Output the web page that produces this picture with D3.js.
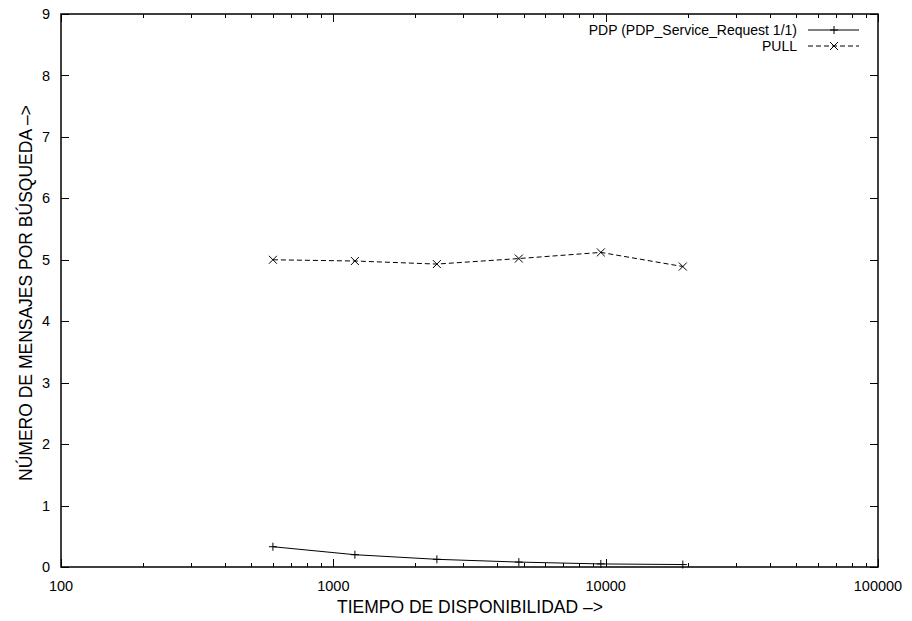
<!DOCTYPE html>
<html>
<head>
<meta charset="utf-8">
<script src="https://cdn.jsdelivr.net/npm/d3@7"></script>
<style>
  html, body { margin: 0; padding: 0; background: #fff; }
  svg text { font-family: "Liberation Sans", Arial, Helvetica, sans-serif; font-size: 14.5px; fill: #000; }
  svg text.axis-title { font-size: 17.5px; }
  svg text.legend-label { font-size: 14px; }
</style>
</head>
<body>
<svg id="chart" width="912" height="621"></svg>
<script>
// Availability time (x, log scale) and messages per search (y)
const tiempos = [600, 1200, 2400, 4800, 9600, 19200];
const pdpValues = [0.33, 0.20, 0.125, 0.08, 0.05, 0.04];
const pullValues = [5.00, 4.98, 4.93, 5.02, 5.12, 4.89];
const xTickValues = [100, 1000, 10000, 100000];
const yTickValues = [0, 1, 2, 3, 4, 5, 6, 7, 8, 9];
const seriesNames = ["PDP (PDP_Service_Request 1/1)", "PULL"];

const svg = d3.select("#chart");
const margin = { left: 61, right: 912 - 878, top: 14, bottom: 621 - 567 };
const W = 912, H = 621;
const x0 = margin.left, x1 = W - margin.right, y0 = H - margin.bottom, y1 = margin.top;

const x = d3.scaleLog().domain([100, 100000]).range([x0, x1]);
const y = d3.scaleLinear().domain([0, 9]).range([y0, y1]);

// Minor ticks for each decade (2..9 x 10^k)
const minorTicks = [];
[100, 1000, 10000].forEach(d => { for (let k = 2; k <= 9; k++) minorTicks.push(d * k); });

const g = svg.append("g");

// Tick marks (inward) on all four sides
const tickG = g.append("g").attr("stroke", "#000").attr("stroke-width", 1);
yTickValues.forEach(v => {
  const yy = Math.round(y(v)) + 0.5;
  tickG.append("line").attr("x1", x0).attr("x2", x0 + 8).attr("y1", yy).attr("y2", yy);
  tickG.append("line").attr("x1", x1).attr("x2", x1 - 8).attr("y1", yy).attr("y2", yy);
});
xTickValues.forEach(v => {
  const xx = Math.round(x(v)) + 0.5;
  tickG.append("line").attr("x1", xx).attr("x2", xx).attr("y1", y0).attr("y2", y0 - 8);
  tickG.append("line").attr("x1", xx).attr("x2", xx).attr("y1", y1).attr("y2", y1 + 8);
});
minorTicks.forEach(v => {
  const xx = Math.round(x(v)) + 0.5;
  tickG.append("line").attr("x1", xx).attr("x2", xx).attr("y1", y0).attr("y2", y0 - 4);
  tickG.append("line").attr("x1", xx).attr("x2", xx).attr("y1", y1).attr("y2", y1 + 4);
});

// Tick labels
g.append("g").selectAll("text").data(yTickValues).join("text")
  .attr("x", x0 - 11).attr("y", d => y(d)).attr("dy", "0.35em")
  .attr("text-anchor", "end").text(d => d);
g.append("g").selectAll("text").data(xTickValues).join("text")
  .attr("x", d => x(d)).attr("y", y0 + 24)
  .attr("text-anchor", "middle").text(d => d);

// Series lines
const line = d3.line().x(d => x(d[0])).y(d => y(d[1]));
const pdp = tiempos.map((t, i) => [t, pdpValues[i]]);
const pull = tiempos.map((t, i) => [t, pullValues[i]]);

g.append("path").datum(pdp).attr("d", line)
  .attr("fill", "none").attr("stroke", "#000").attr("stroke-width", 1);
g.append("path").datum(pull).attr("d", line)
  .attr("fill", "none").attr("stroke", "#000").attr("stroke-width", 1)
  .attr("stroke-dasharray", "5,3");

function plus(sel, cx, cy) {
  sel.append("path").attr("d", `M${cx - 4},${cy}H${cx + 4}M${cx},${cy - 4}V${cy + 4}`)
    .attr("stroke", "#000").attr("stroke-width", 1).attr("fill", "none");
}
function cross(sel, cx, cy) {
  sel.append("path").attr("d", `M${cx - 4},${cy - 4}L${cx + 4},${cy + 4}M${cx - 4},${cy + 4}L${cx + 4},${cy - 4}`)
    .attr("stroke", "#000").attr("stroke-width", 1).attr("fill", "none");
}
const markG = g.append("g");
pdp.forEach(d => plus(markG, x(d[0]), y(d[1])));
pull.forEach(d => cross(markG, x(d[0]), y(d[1])));

// Frame
g.append("rect").attr("x", x0).attr("y", y1).attr("width", x1 - x0).attr("height", y0 - y1)
  .attr("fill", "none").attr("stroke", "#000").attr("stroke-width", 1.5);

// Legend
const legRows = [30, 46];
const legG = g.append("g");
seriesNames.forEach((name, i) => {
  legG.append("text").attr("class", "legend-label").attr("x", 797).attr("y", legRows[i]).attr("dy", "0.35em")
    .attr("text-anchor", "end").text(name);
  const ln = legG.append("line").attr("x1", 808).attr("x2", 859)
    .attr("y1", legRows[i]).attr("y2", legRows[i])
    .attr("stroke", "#000").attr("stroke-width", 1);
  if (i === 1) ln.attr("stroke-dasharray", "5,3");
  if (i === 0) plus(legG, 834, legRows[i]); else cross(legG, 834, legRows[i]);
});

// Axis titles
g.append("text").attr("class", "axis-title").attr("x", 470).attr("y", 613)
  .attr("text-anchor", "middle").text("TIEMPO DE DISPONIBILIDAD \u2013>");
g.append("text").attr("class", "axis-title").attr("transform", "translate(32,293) rotate(-90)")
  .attr("text-anchor", "middle").text("NÚMERO DE MENSAJES POR BÚSQUEDA \u2013>");
</script>
</body>
</html>
